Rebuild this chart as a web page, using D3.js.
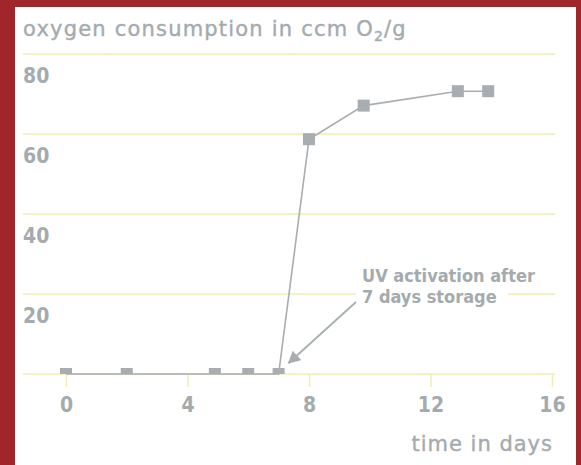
<!DOCTYPE html>
<html lang="en">
<head>
<meta charset="UTF-8">
<title>oxygen consumption</title>
<script src="https://d3js.org/d3.v7.min.js"></script>
<style>
  html, body { margin: 0; padding: 0; background: #a1262c; }
  svg { display: block; }
  text { font-family: "DejaVu Sans Condensed", "DejaVu Sans", sans-serif; fill: #a4abae; }
</style>
</head>
<body>
<svg width="581" height="465" id="chart"></svg>
<script>
// data
var days   = [0, 2, 4.9, 6, 7, 8, 9.8, 12.9, 13.9];
var oxygen = [0, 0, 0, 0, 0, 58.7, 67.1, 70.7, 70.7];
var xTicks = [0, 4, 8, 12, 16];
var yTicks = [20, 40, 60, 80];

var grey = '#a7adb0';
var gridCol = '#efeeb3';
var wideFont = '"DejaVu Sans", sans-serif';

var svg = d3.select('#chart');

// white panel inside the red frame
svg.append('rect').attr('x', 15).attr('y', 7).attr('width', 561).attr('height', 458).attr('fill', '#fff');

var x = d3.scaleLinear().domain([0, 16]).range([66, 552]);
var y = d3.scaleLinear().domain([0, 80]).range([374, 54]);
var left = 23, right = 555;

// horizontal grid lines (incl. zero line)
svg.selectAll('.grid').data([0].concat(yTicks)).enter()
  .append('line')
  .attr('x1', left).attr('x2', right)
  .attr('y1', function (d) { return y(d); }).attr('y2', function (d) { return y(d); })
  .attr('stroke', gridCol).attr('stroke-width', 1.5);

// y labels sit under their grid line
svg.selectAll('.ylab').data(yTicks).enter()
  .append('text')
  .attr('x', left)
  .attr('y', function (d) { return y(d) + 29; })
  .attr('font-size', 21)
  .attr('font-weight', 'bold')
  .text(function (d) { return d; });

// x axis with ticks below
var xAxis = d3.axisBottom(x).tickValues(xTicks).tickSize(13).tickPadding(10);
var gx = svg.append('g').attr('transform', 'translate(0,' + y(0) + ')').call(xAxis);
gx.select('.domain').remove();
gx.selectAll('.tick line').attr('stroke', gridCol).attr('stroke-width', 1.5);
gx.selectAll('.tick text')
  .attr('fill', '#a4abae')
  .attr('font-size', 21)
  .attr('font-weight', 'bold');

// title
var title = svg.append('text').attr('x', 23).attr('y', 36).attr('font-size', 21)
  .style('font-family', wideFont).style('letter-spacing', '1.2px')
  .attr('stroke', '#a4abae').attr('stroke-width', 0.4);
title.append('tspan').text('oxygen consumption in ccm O');
title.append('tspan').attr('font-size', 14).attr('dy', 5).text('2');
title.append('tspan').attr('dy', -5).text('/g');

// axis title
svg.append('text').attr('x', 553).attr('y', 451).attr('text-anchor', 'end')
  .attr('font-size', 21).style('font-family', wideFont).style('letter-spacing', '1px')
  .attr('stroke', '#a4abae').attr('stroke-width', 0.4)
  .text('time in days');

// data line
var pts = days.map(function (d, i) { return [d, oxygen[i]]; });
svg.append('path')
  .datum(pts)
  .attr('d', d3.line().x(function (d) { return x(d[0]); }).y(function (d) { return y(d[1]); }))
  .attr('fill', 'none').attr('stroke', grey).attr('stroke-width', 1.6);

// markers clipped at the zero line
svg.append('clipPath').attr('id', 'plotClip')
  .append('rect').attr('x', 0).attr('y', 0).attr('width', 581).attr('height', y(0));
svg.append('g').attr('clip-path', 'url(#plotClip)')
  .selectAll('rect').data(pts).enter()
  .append('rect')
  .attr('x', function (d) { return x(d[0]) - 6; })
  .attr('y', function (d) { return y(d[1]) - 6; })
  .attr('width', 12).attr('height', 12)
  .attr('fill', grey);

// annotation: text with white backing breaks the 20 grid line
var ann = svg.append('g');
ann.append('rect').attr('x', 356).attr('y', 286).attr('width', 152).attr('height', 16).attr('fill', '#fff');
ann.append('text').attr('x', 362).attr('y', 282).attr('font-size', 18).attr('font-weight', 'bold').text('UV activation after');
ann.append('text').attr('x', 362).attr('y', 303).attr('font-size', 18).attr('font-weight', 'bold').text('7 days storage');

svg.append('defs').append('marker')
  .attr('id', 'arrow').attr('viewBox', '0 0 10 10')
  .attr('refX', 9).attr('refY', 5)
  .attr('markerWidth', 7).attr('markerHeight', 7)
  .attr('orient', 'auto')
  .append('path').attr('d', 'M0,0L10,5L0,10Z').attr('fill', grey);

svg.append('line')
  .attr('x1', 356).attr('y1', 302)
  .attr('x2', x(7) + 10).attr('y2', y(0) - 11)
  .attr('stroke', grey).attr('stroke-width', 1.8)
  .attr('marker-end', 'url(#arrow)');
</script>
</body>
</html>
